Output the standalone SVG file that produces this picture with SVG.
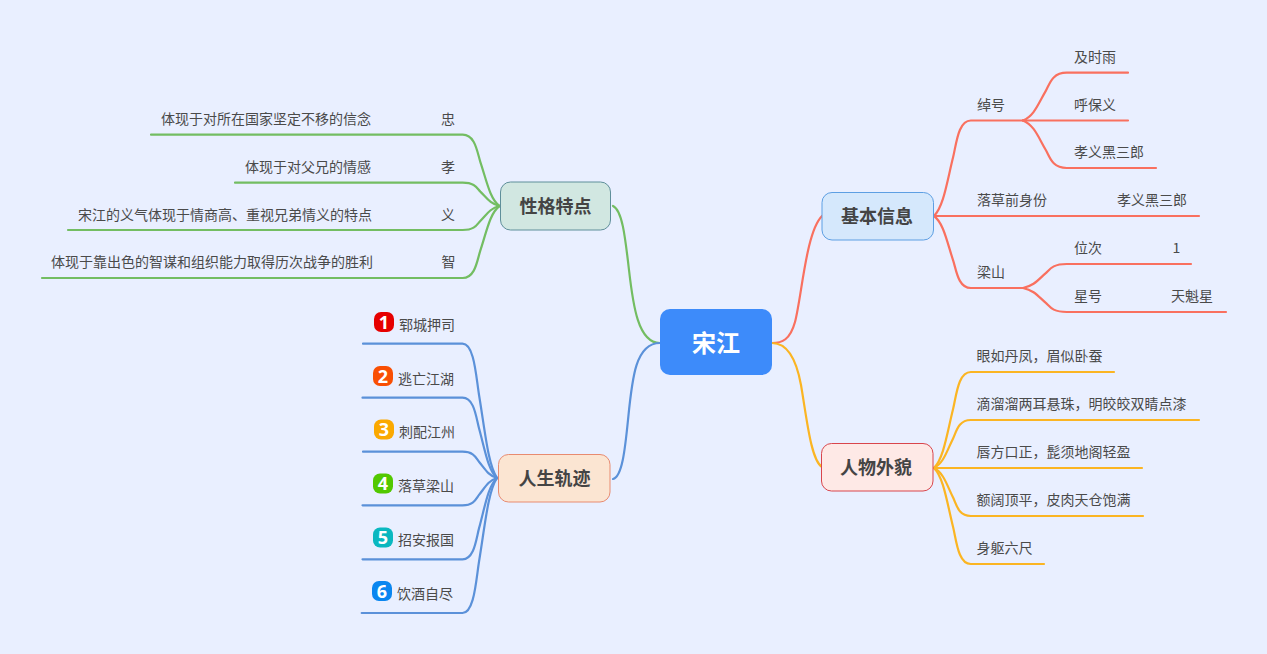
<svg xmlns="http://www.w3.org/2000/svg" width="1267" height="654" viewBox="0 0 1267 654">
<style>
text{font-family:"Noto Sans CJK SC","Noto Sans",sans-serif;fill:#4a4a4a;font-size:14px}
.t{font-size:18px;font-weight:700;fill:#444;text-anchor:middle}
.e{text-anchor:end}
.n{font-size:18px;font-weight:700;fill:#fff;text-anchor:middle;font-family:"Noto Sans",sans-serif}
.c path{fill:none;stroke-width:2.2;stroke-linecap:round}
.r path{stroke:#f9705f}.y path{stroke:#fbb523}.b path{stroke:#5b91d9}.g path{stroke:#73bd62}
</style>
<rect width="1267" height="654" fill="#e9efff"/>
<g id="connectors" class="c">
<g class="r">
<path d="M772 343C782 343 790 340 795 322C802 295 806 232 822 216"/>
<path d="M934 216C943.600 206.500 946.800 182.600 953.200 156.800C956.400 143.400 958.300 120.500 970.800 120.500H1023"/>
<path d="M934 216H1199"/>
<path d="M934 216C943.600 223.200 946.800 241.200 953.200 260.600C956.400 270.700 958.300 288 970.800 288H1023"/>
<path d="M1023 120.500C1034.400 115.700 1038.200 103.800 1045.800 90.900C1049.600 84.200 1051.900 72.700 1066.700 72.700H1128"/>
<path d="M1023 120.500H1128"/>
<path d="M1023 120.500C1034.400 125.300 1038.200 137.100 1045.800 150C1049.600 156.600 1051.900 168 1066.700 168H1156"/>
<path d="M1023 288C1034.400 285.600 1038.200 279.600 1045.800 273.100C1049.600 269.800 1051.900 264 1066.700 264H1191"/>
<path d="M1023 288C1034.400 290.400 1038.200 296.400 1045.800 302.900C1049.600 306.200 1051.900 312 1066.700 312H1226"/>
</g>
<g class="y">
<path d="M772 343C784 343 795 352 801 385C807 420 811 460 822 467"/>
<path d="M934 468C943.600 458.400 946.800 434.400 953.200 408.500C956.400 395 958.300 372 970.800 372H1114"/>
<path d="M934 468C943.600 463.200 946.800 451.200 953.200 438.200C956.400 431.500 958.300 420 970.800 420H1199"/>
<path d="M934 468H1142"/>
<path d="M934 468C943.600 472.800 946.800 484.800 953.200 497.800C956.400 504.500 958.300 516 970.800 516H1143"/>
<path d="M934 468C943.600 477.600 946.800 501.600 953.200 527.500C956.400 541 958.300 564 970.800 564H1044"/>
</g>
<g class="g">
<path d="M660 343C638 343 633 305 629 270C625 235 622 210 613 206"/>
<path d="M499.500 206C489.900 198.900 486.700 181 480.300 161.800C477.100 151.800 475.200 134.700 462.700 134.700H151"/>
<path d="M499.500 206C489.900 203.700 486.700 197.800 480.300 191.600C477.100 188.300 475.200 182.700 462.700 182.700H235"/>
<path d="M499.500 206C489.900 208.400 486.700 214.400 480.300 220.900C477.100 224.200 475.200 230 462.700 230H68"/>
<path d="M499.500 206C489.900 213.200 486.700 231.200 480.300 250.600C477.100 260.700 475.200 278 462.700 278H42"/>
</g>
<g class="b">
<path d="M660 343C635 343 632 380 628 420C625 450 622 477 613 479"/>
<path d="M497 478C488 464.600 485 431 479 394.700C476 376 474.200 343.700 462.500 343.700H363"/>
<path d="M497 478C488 470 485 449.900 479 428.200C476 417 474.200 397.700 462.500 397.700H362.500"/>
<path d="M497 478C488 475.400 485 468.800 479 461.700C476 458 474.200 451.700 462.500 451.700H363"/>
<path d="M497 478C488 480.700 485 487.600 479 494.900C476 498.700 474.200 505.300 462.500 505.300H362.500"/>
<path d="M497 478C488 486.100 485 506.500 479 528.400C476 539.800 474.200 559.300 462.500 559.300H362.500"/>
<path d="M497 478C488 491.500 485 525.300 479 561.700C476 580.600 474.200 613 462.500 613H361.700"/>
</g>
</g>
<g id="root"><rect x="660" y="309" width="112" height="66" rx="10" fill="#3d8bfa"/><text x="716" y="352" class="t" style="font-size:24px;fill:#fff">宋江</text></g>
<g id="basic"><rect x="822" y="192.500" width="111.500" height="47.500" rx="10" fill="#d5e8fc" stroke="#5d9fe3"/><text x="877" y="223" class="t">基本信息</text></g>
<g id="look"><rect x="821.500" y="443.500" width="111.500" height="47.500" rx="10" fill="#fee9e6" stroke="#d9454c"/><text x="876" y="474" class="t">人物外貌</text></g>
<g id="trait"><rect x="500.500" y="182" width="110" height="48" rx="10" fill="#d1e7e1" stroke="#5f8f9a"/><text x="555.500" y="213" class="t">性格特点</text></g>
<g id="life"><rect x="498.500" y="454.500" width="111.500" height="47.500" rx="10" fill="#fbe5d2" stroke="#e88b70"/><text x="554.500" y="485" class="t">人生轨迹</text></g>
<g id="n-nick"><text x="977" y="110">绰号</text></g>
<g id="n-nick1"><text x="1074" y="62">及时雨</text></g>
<g id="n-nick2"><text x="1074" y="110">呼保义</text></g>
<g id="n-nick3"><text x="1074" y="157">孝义黑三郎</text></g>
<g id="n-prior"><text x="977" y="205">落草前身份</text><text x="1117" y="205">孝义黑三郎</text></g>
<g id="n-ls"><text x="977" y="277">梁山</text></g>
<g id="n-rank"><text x="1074" y="253">位次</text><text x="1172.500" y="253">1</text></g>
<g id="n-star"><text x="1074" y="301">星号</text><text x="1171" y="301">天魁星</text></g>
<g id="n-l1"><text x="976.500" y="361">眼如丹凤，眉似卧蚕</text></g>
<g id="n-l2"><text x="976.500" y="409">滴溜溜两耳悬珠，明皎皎双睛点漆</text></g>
<g id="n-l3"><text x="976.500" y="457">唇方口正，髭须地阁轻盈</text></g>
<g id="n-l4"><text x="976.500" y="505">额阔顶平，皮肉天仓饱满</text></g>
<g id="n-l5"><text x="976.500" y="553">身躯六尺</text></g>
<g id="n-t1"><text x="371" y="124" class="e">体现于对所在国家坚定不移的信念</text><text x="441" y="124">忠</text></g>
<g id="n-t2"><text x="371" y="172" class="e">体现于对父兄的情感</text><text x="441" y="172">孝</text></g>
<g id="n-t3"><text x="372" y="220" class="e">宋江的义气体现于情商高、重视兄弟情义的特点</text><text x="441" y="220">义</text></g>
<g id="n-t4"><text x="373" y="267" class="e">体现于靠出色的智谋和组织能力取得历次战争的胜利</text><text x="441.500" y="267">智</text></g>
<g id="n-s1"><rect x="374" y="312" width="20" height="20" rx="7" fill="#e60000"/><text x="384" y="328.500" class="n">1</text><text x="399" y="330">郓城押司</text></g>
<g id="n-s2"><rect x="373" y="366" width="20" height="20" rx="7" fill="#f94f04"/><text x="383" y="382.500" class="n">2</text><text x="398" y="384">逃亡江湖</text></g>
<g id="n-s3"><rect x="374" y="419.500" width="20" height="20" rx="7" fill="#fba900"/><text x="384" y="436" class="n">3</text><text x="399" y="437">刺配江州</text></g>
<g id="n-s4"><rect x="373" y="473.500" width="20" height="20" rx="7" fill="#52c800"/><text x="383" y="490" class="n">4</text><text x="398" y="491">落草梁山</text></g>
<g id="n-s5"><rect x="373" y="527.500" width="20" height="20" rx="7" fill="#0ab8c0"/><text x="383" y="544" class="n">5</text><text x="398" y="545">招安报国</text></g>
<g id="n-s6"><rect x="372" y="581" width="20" height="20" rx="7" fill="#0a86f0"/><text x="382" y="597.500" class="n">6</text><text x="397" y="599">饮酒自尽</text></g>
</svg>
